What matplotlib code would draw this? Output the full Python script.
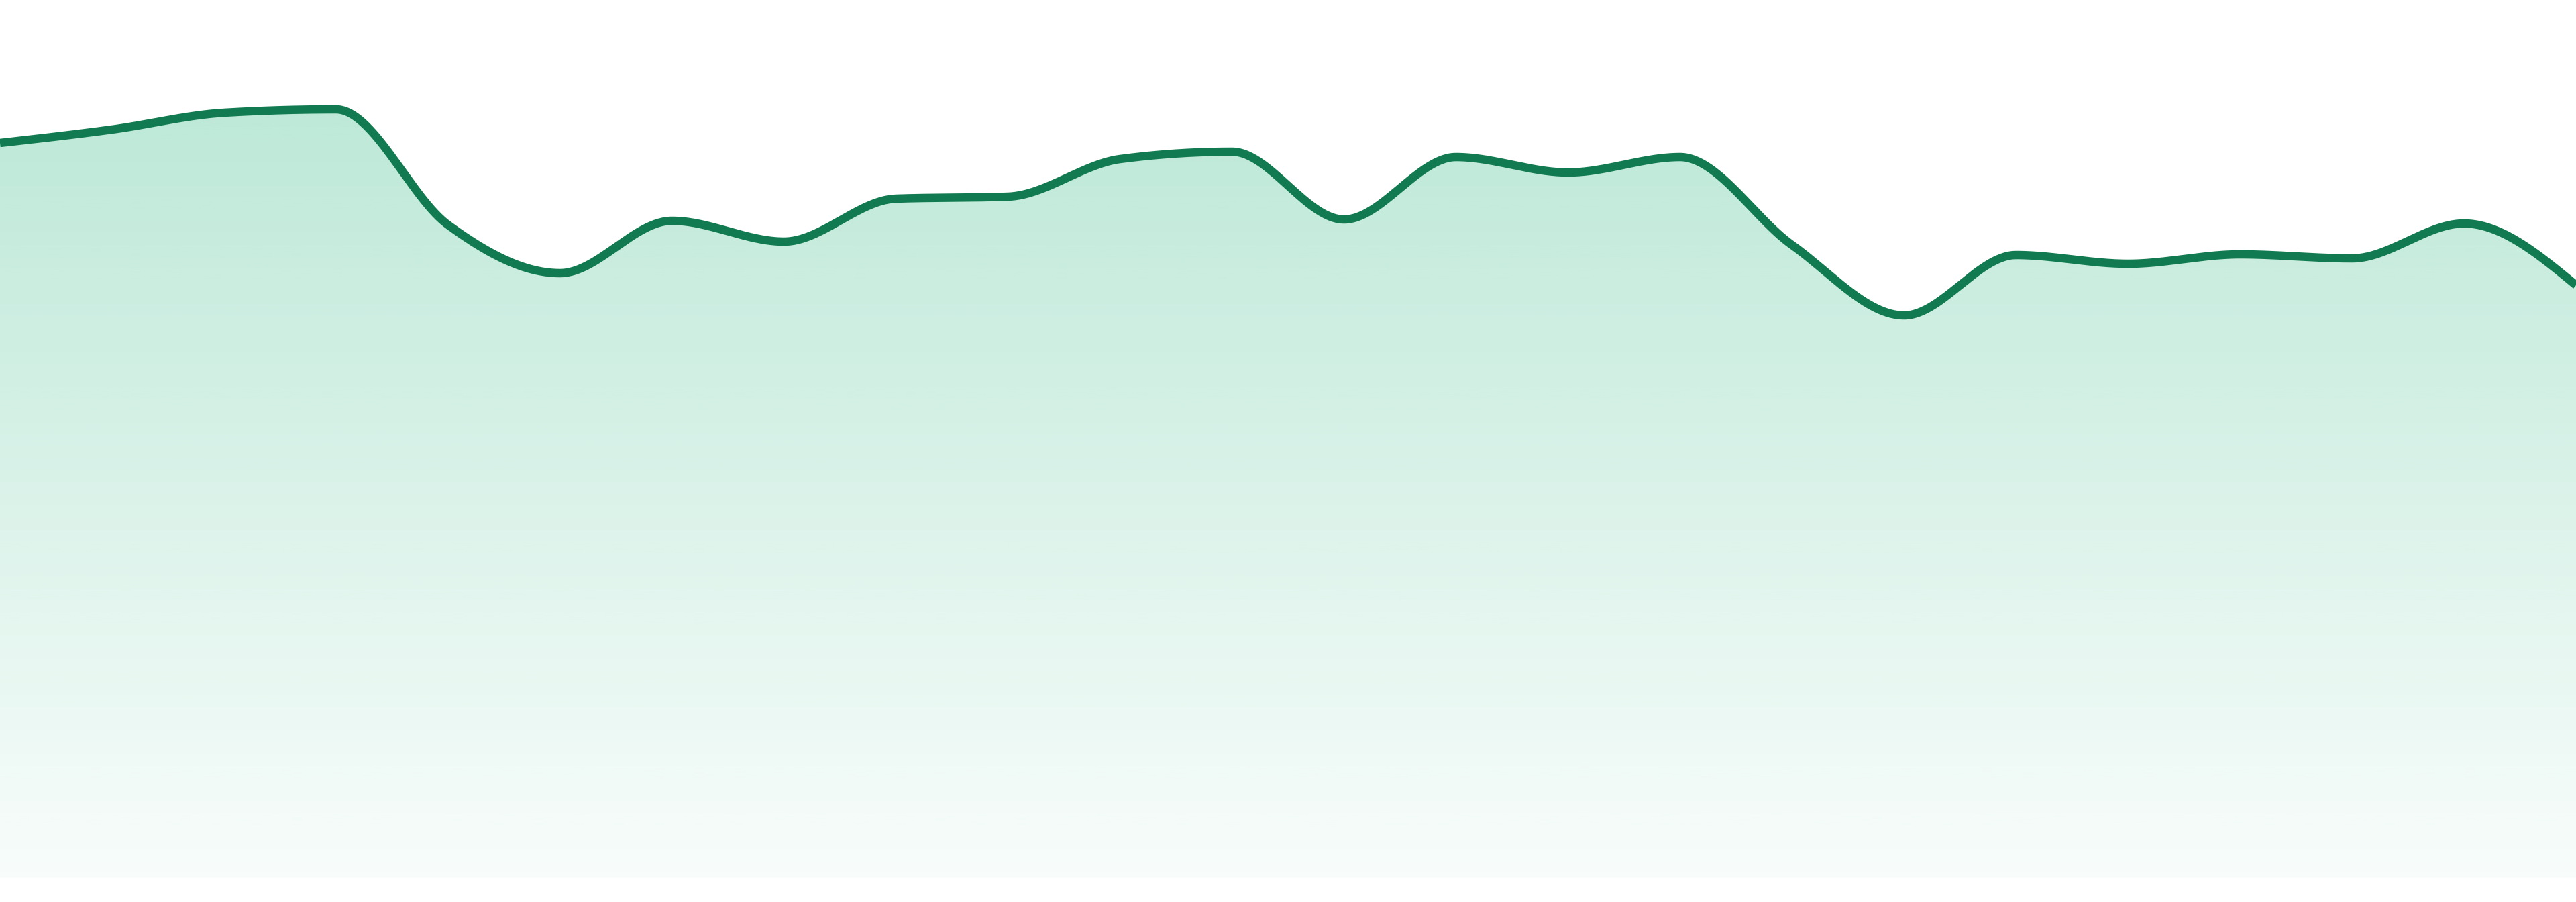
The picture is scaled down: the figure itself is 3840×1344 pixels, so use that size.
import numpy as np
import matplotlib.pyplot as plt
from matplotlib.patches import Polygon

# values (one point per step, 24 steps)
days = np.arange(24)
price = np.array([109.5, 111.5, 114.0, 114.5, 97.3, 90.1, 97.9, 94.8,
                  101.2, 101.5, 107.1, 108.2, 98.1, 107.4, 105.1, 107.4,
                  94.3, 83.8, 92.8, 91.5, 92.9, 92.3, 97.5, 88.3])

line_color = "#127a50"
fill_rgb = np.array([22, 176, 116]) / 255


def monotone_x(x, y, n=60):
    # same idea as d3 curveMonotoneX
    x = np.asarray(x, dtype=float)
    y = np.asarray(y, dtype=float)
    h = np.diff(x)
    s = np.diff(y) / h
    t = np.zeros_like(y)
    for i in range(1, len(y) - 1):
        p = (s[i - 1] * h[i] + s[i] * h[i - 1]) / (h[i - 1] + h[i])
        t[i] = (np.sign(s[i - 1]) + np.sign(s[i])) * min(abs(s[i - 1]), abs(s[i]), 0.5 * abs(p))
    t[0] = (3 * s[0] - t[1]) / 2
    t[-1] = (3 * s[-1] - t[-2]) / 2

    xs, ys = [], []
    for i in range(len(x) - 1):
        u = np.linspace(0, 1, n, endpoint=(i == len(x) - 2))
        h00 = 2 * u**3 - 3 * u**2 + 1
        h10 = u**3 - 2 * u**2 + u
        h01 = -2 * u**3 + 3 * u**2
        h11 = u**3 - u**2
        xs.append(x[i] + u * h[i])
        ys.append(h00 * y[i] + h10 * h[i] * t[i] + h01 * y[i + 1] + h11 * h[i] * t[i + 1])
    return np.concatenate(xs), np.concatenate(ys)


xs, ys = monotone_x(days, price)

fig = plt.figure(figsize=(38.4, 13.44), dpi=100)
ax = fig.add_axes([0, 0, 1, 1])
ax.axis("off")

# vertical gradient, clipped to the area under the curve
top = 130.8
grad = np.zeros((400, 1, 4))
grad[:, 0, :3] = fill_rgb
grad[:, 0, 3] = np.linspace(0.32, 0.03, 400)
im = ax.imshow(grad, extent=[days[0], days[-1], 0, top], aspect="auto",
               origin="upper", interpolation="bilinear", zorder=1)
verts = np.column_stack([np.r_[xs, xs[-1], xs[0]], np.r_[ys, 0, 0]])
clip = Polygon(verts, closed=True, facecolor="none", edgecolor="none")
ax.add_patch(clip)
im.set_clip_path(clip)

ax.plot(xs, ys, color=line_color, linewidth=9, solid_capstyle="butt",
        solid_joinstyle="round", zorder=2)

# imshow resets the limits, so set them last
ax.set_xlim(days[0], days[-1])
ax.set_ylim(-3.6, 130.8)

plt.savefig("out.png", dpi=100, facecolor="white")
